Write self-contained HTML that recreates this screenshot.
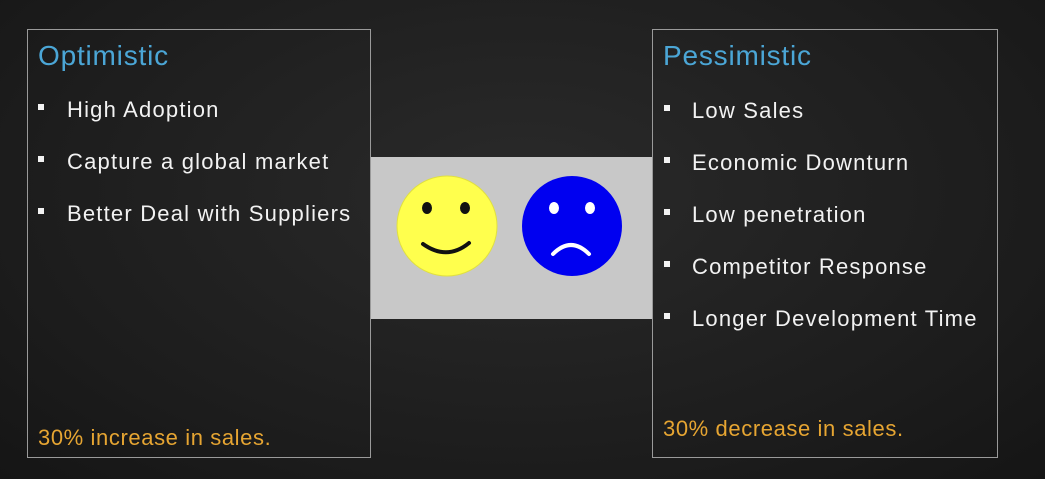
<!DOCTYPE html>
<html><head><meta charset="utf-8"><style>
html,body{margin:0;padding:0}
body{width:1045px;height:479px;overflow:hidden;background:#1f1f1f;position:relative;font-family:"Liberation Sans",sans-serif}
.bg{position:absolute;inset:0;background:radial-gradient(ellipse at 50% 40%,#2a2a2a 0%,#1c1c1c 70%,#151515 100%)}
.box{position:absolute;border:1px solid #9a9a9a;box-sizing:border-box}
.title{position:absolute;color:#4ba6d6;font-size:28px;letter-spacing:0.8px}
.item{position:absolute;color:#f2f2f2;font-size:22px;letter-spacing:1.2px;white-space:nowrap}
.bul{position:absolute;width:6px;height:6px;background:#f2f2f2}
.foot{position:absolute;color:#e6a532;font-size:22px;letter-spacing:0.6px;white-space:nowrap}
</style></head><body>
<div class="bg"></div>

<div class="box" style="left:27px;top:29px;width:344px;height:429px"></div>
<div class="title" style="left:38px;top:40px">Optimistic</div>
<div class="bul" style="left:38px;top:104px"></div>
<div class="item" style="left:67px;top:97px">High Adoption</div>
<div class="bul" style="left:38px;top:156px"></div>
<div class="item" style="left:67px;top:149px">Capture a global market</div>
<div class="bul" style="left:38px;top:208px"></div>
<div class="item" style="left:67px;top:201px">Better Deal with Suppliers</div>
<div class="foot" style="left:38px;top:425px">30% increase in sales.</div>

<div class="box" style="left:652px;top:29px;width:346px;height:429px"></div>
<div class="title" style="left:663px;top:40px">Pessimistic</div>
<div class="bul" style="left:664px;top:105px"></div>
<div class="item" style="left:692px;top:98px">Low Sales</div>
<div class="bul" style="left:664px;top:157px"></div>
<div class="item" style="left:692px;top:150px">Economic Downturn</div>
<div class="bul" style="left:664px;top:209px"></div>
<div class="item" style="left:692px;top:202px">Low penetration</div>
<div class="bul" style="left:664px;top:261px"></div>
<div class="item" style="left:692px;top:254px">Competitor Response</div>
<div class="bul" style="left:664px;top:313px"></div>
<div class="item" style="left:692px;top:306px">Longer Development Time</div>
<div class="foot" style="left:663px;top:416px">30% decrease in sales.</div>

<svg style="position:absolute;left:371px;top:157px" width="281" height="162">
<rect width="281" height="162" fill="#c8c8c8"/>
<g>
<circle cx="76" cy="69" r="50" fill="#ffff4d" stroke="#e0e040" stroke-width="1"/>
<ellipse cx="56" cy="51" rx="5" ry="6" fill="#111"/>
<ellipse cx="94" cy="51" rx="5" ry="6" fill="#111"/>
<path d="M52 87 Q76 104 98 86" stroke="#111" stroke-width="4" fill="none" stroke-linecap="round"/>
</g>
<g>
<circle cx="201" cy="69" r="50" fill="#0000f0"/>
<ellipse cx="183" cy="51" rx="5" ry="6" fill="#fff"/>
<ellipse cx="219" cy="51" rx="5" ry="6" fill="#fff"/>
<path d="M182 97 Q200 79 218 97" stroke="#fff" stroke-width="4" fill="none" stroke-linecap="round"/>
</g>
</svg>
</body></html>
